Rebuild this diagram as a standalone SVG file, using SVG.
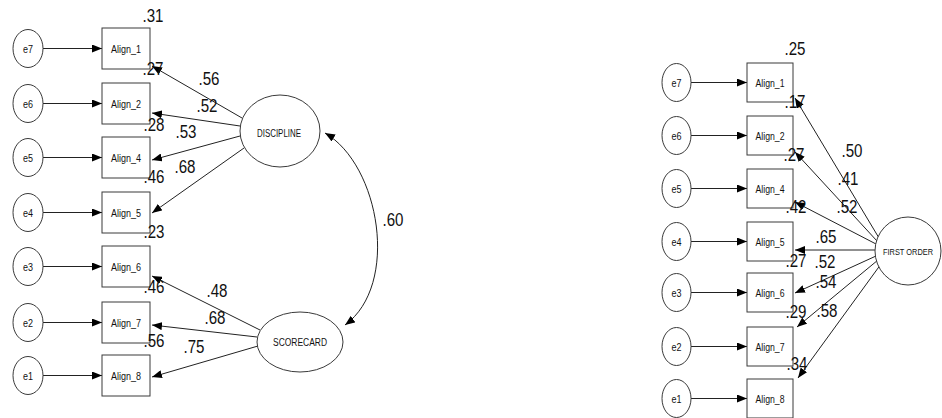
<svg xmlns="http://www.w3.org/2000/svg" width="942" height="418" viewBox="0 0 942 418">
  <style>
    .bg { fill: #ffffff; }
    .obs { fill: #ffffff; stroke: #3a3a3a; stroke-width: 1; }
    .err { fill: #ffffff; stroke: #3a3a3a; stroke-width: 1; }
    .lat { fill: #ffffff; stroke: #3a3a3a; stroke-width: 1; }
    .lbl { font-family: "Liberation Sans", Arial, sans-serif; fill: #111; text-anchor: middle; }
    .small { font-size: 11px; }
    .tiny { font-size: 10px; }
    .coef { font-family: "Liberation Sans", Arial, sans-serif; font-size: 18px; fill: #111; text-anchor: middle; }
    .path { fill: none; stroke: #222; stroke-width: 1; marker-end: url(#ah); }
    .cov { fill: none; stroke: #222; stroke-width: 1; marker-start: url(#ahs); marker-end: url(#ah); }
  </style>
  <defs>
    <marker id="ah" viewBox="0 0 10 8" refX="10" refY="4" markerWidth="10" markerHeight="8" markerUnits="userSpaceOnUse" orient="auto">
      <path d="M0,0 L10,4 L0,8 z" fill="#000"/>
    </marker>
    <marker id="ahs" viewBox="0 0 10 8" refX="10" refY="4" markerWidth="10" markerHeight="8" markerUnits="userSpaceOnUse" orient="auto-start-reverse">
      <path d="M0,0 L10,4 L0,8 z" fill="#000"/>
    </marker>
  </defs>
  <rect class="bg" x="0" y="0" width="942" height="418"/>

  <!-- connectors -->
  <g id="connectors">
    <!-- model A: error terms -->
    <line class="path" x1="43" y1="48.5" x2="102" y2="48.5"/>
    <line class="path" x1="43" y1="103.5" x2="102" y2="103.5"/>
    <line class="path" x1="43" y1="157.5" x2="102" y2="157.5"/>
    <line class="path" x1="43" y1="212.5" x2="102" y2="212.5"/>
    <line class="path" x1="43" y1="266.5" x2="102" y2="266.5"/>
    <line class="path" x1="43" y1="322.5" x2="102" y2="322.5"/>
    <line class="path" x1="43" y1="375.5" x2="102" y2="375.5"/>
    <!-- model A: loadings -->
    <line class="path" x1="242" y1="118" x2="152" y2="66"/>
    <line class="path" x1="240" y1="126" x2="152" y2="113"/>
    <line class="path" x1="240" y1="136" x2="152" y2="160"/>
    <line class="path" x1="244" y1="148" x2="152" y2="213"/>
    <line class="path" x1="260" y1="330" x2="152" y2="276"/>
    <line class="path" x1="257" y1="337" x2="152" y2="325"/>
    <line class="path" x1="258" y1="346" x2="152" y2="377"/>
    <!-- model A: factor covariance -->
    <path class="cov" d="M325,133 C380,165 400,285 345,325"/>

    <!-- model B: error terms -->
    <line class="path" x1="691" y1="82.5" x2="747" y2="82.5"/>
    <line class="path" x1="691" y1="135.5" x2="747" y2="135.5"/>
    <line class="path" x1="691" y1="188.5" x2="747" y2="188.5"/>
    <line class="path" x1="691" y1="241.5" x2="747" y2="241.5"/>
    <line class="path" x1="691" y1="292.5" x2="747" y2="292.5"/>
    <line class="path" x1="691" y1="346.5" x2="747" y2="346.5"/>
    <line class="path" x1="691" y1="398.5" x2="747" y2="398.5"/>
    <!-- model B: loadings -->
    <line class="path" x1="879" y1="238" x2="795" y2="98"/>
    <line class="path" x1="877" y1="241" x2="795" y2="152"/>
    <line class="path" x1="876" y1="244" x2="795" y2="202"/>
    <line class="path" x1="875" y1="250" x2="795" y2="250"/>
    <line class="path" x1="876" y1="256" x2="795" y2="293"/>
    <line class="path" x1="878" y1="260" x2="797" y2="327"/>
    <line class="path" x1="881" y1="264" x2="798" y2="378"/>
  </g>

  <!-- model A: error terms -->
  <g id="a_e7"><ellipse class="err" cx="28" cy="48.5" rx="15" ry="19"/><text class="lbl small" x="28" y="52.5" textLength="10" lengthAdjust="spacingAndGlyphs">e7</text></g>
  <g id="a_e6"><ellipse class="err" cx="28" cy="103.5" rx="15" ry="19"/><text class="lbl small" x="28" y="107.5" textLength="10" lengthAdjust="spacingAndGlyphs">e6</text></g>
  <g id="a_e5"><ellipse class="err" cx="28" cy="157.5" rx="15" ry="19"/><text class="lbl small" x="28" y="161.5" textLength="10" lengthAdjust="spacingAndGlyphs">e5</text></g>
  <g id="a_e4"><ellipse class="err" cx="28" cy="212.5" rx="15" ry="19"/><text class="lbl small" x="28" y="216.5" textLength="10" lengthAdjust="spacingAndGlyphs">e4</text></g>
  <g id="a_e3"><ellipse class="err" cx="28" cy="266.5" rx="15" ry="19"/><text class="lbl small" x="28" y="270.5" textLength="10" lengthAdjust="spacingAndGlyphs">e3</text></g>
  <g id="a_e2"><ellipse class="err" cx="28" cy="322.5" rx="15" ry="19"/><text class="lbl small" x="28" y="326.5" textLength="10" lengthAdjust="spacingAndGlyphs">e2</text></g>
  <g id="a_e1"><ellipse class="err" cx="28" cy="375.5" rx="15" ry="19"/><text class="lbl small" x="28" y="379.5" textLength="10" lengthAdjust="spacingAndGlyphs">e1</text></g>

  <!-- model A: indicators -->
  <g id="a_align1"><rect class="obs" x="102" y="28" width="48" height="41"/><text class="lbl small" x="126" y="52.5" textLength="30" lengthAdjust="spacingAndGlyphs">Align_1</text></g>
  <g id="a_align2"><rect class="obs" x="102" y="83" width="48" height="41"/><text class="lbl small" x="126" y="107.5" textLength="30" lengthAdjust="spacingAndGlyphs">Align_2</text></g>
  <g id="a_align4"><rect class="obs" x="102" y="137" width="48" height="41"/><text class="lbl small" x="126" y="161.5" textLength="30" lengthAdjust="spacingAndGlyphs">Align_4</text></g>
  <g id="a_align5"><rect class="obs" x="102" y="192" width="48" height="41"/><text class="lbl small" x="126" y="216.5" textLength="30" lengthAdjust="spacingAndGlyphs">Align_5</text></g>
  <g id="a_align6"><rect class="obs" x="102" y="246" width="48" height="41"/><text class="lbl small" x="126" y="270.5" textLength="30" lengthAdjust="spacingAndGlyphs">Align_6</text></g>
  <g id="a_align7"><rect class="obs" x="102" y="302" width="48" height="41"/><text class="lbl small" x="126" y="326.5" textLength="30" lengthAdjust="spacingAndGlyphs">Align_7</text></g>
  <g id="a_align8"><rect class="obs" x="102" y="355" width="48" height="41"/><text class="lbl small" x="126" y="379.5" textLength="30" lengthAdjust="spacingAndGlyphs">Align_8</text></g>

  <!-- model A: factors -->
  <g id="discipline"><ellipse class="lat" cx="280" cy="131" rx="40" ry="36"/><text class="lbl tiny" x="279" y="137" textLength="44" lengthAdjust="spacingAndGlyphs">DISCIPLINE</text></g>
  <g id="scorecard"><ellipse class="lat" cx="300" cy="342" rx="43" ry="30"/><text class="lbl tiny" x="300" y="346" textLength="54" lengthAdjust="spacingAndGlyphs">SCORECARD</text></g>

  <!-- model A: estimates -->
  <g id="a_estimates">
    <text class="coef" x="153" y="22" textLength="21" lengthAdjust="spacingAndGlyphs">.31</text>
    <text class="coef" x="153" y="75" textLength="21" lengthAdjust="spacingAndGlyphs">.27</text>
    <text class="coef" x="209" y="85" textLength="21" lengthAdjust="spacingAndGlyphs">.56</text>
    <text class="coef" x="207" y="112" textLength="21" lengthAdjust="spacingAndGlyphs">.52</text>
    <text class="coef" x="154" y="131" textLength="21" lengthAdjust="spacingAndGlyphs">.28</text>
    <text class="coef" x="186" y="138" textLength="21" lengthAdjust="spacingAndGlyphs">.53</text>
    <text class="coef" x="154" y="183" textLength="21" lengthAdjust="spacingAndGlyphs">.46</text>
    <text class="coef" x="185" y="173" textLength="21" lengthAdjust="spacingAndGlyphs">.68</text>
    <text class="coef" x="154" y="238" textLength="21" lengthAdjust="spacingAndGlyphs">.23</text>
    <text class="coef" x="154" y="293" textLength="21" lengthAdjust="spacingAndGlyphs">.46</text>
    <text class="coef" x="217" y="297" textLength="21" lengthAdjust="spacingAndGlyphs">.48</text>
    <text class="coef" x="215" y="324" textLength="21" lengthAdjust="spacingAndGlyphs">.68</text>
    <text class="coef" x="154" y="347" textLength="21" lengthAdjust="spacingAndGlyphs">.56</text>
    <text class="coef" x="194" y="353" textLength="21" lengthAdjust="spacingAndGlyphs">.75</text>
    <text class="coef" x="393" y="226" textLength="21" lengthAdjust="spacingAndGlyphs">.60</text>
  </g>

  <!-- model B: error terms -->
  <g id="b_e7"><ellipse class="err" cx="676.5" cy="82.5" rx="14.5" ry="19"/><text class="lbl small" x="676.5" y="86.5" textLength="10" lengthAdjust="spacingAndGlyphs">e7</text></g>
  <g id="b_e6"><ellipse class="err" cx="676.5" cy="135.5" rx="14.5" ry="19"/><text class="lbl small" x="676.5" y="139.5" textLength="10" lengthAdjust="spacingAndGlyphs">e6</text></g>
  <g id="b_e5"><ellipse class="err" cx="676.5" cy="188.5" rx="14.5" ry="19"/><text class="lbl small" x="676.5" y="192.5" textLength="10" lengthAdjust="spacingAndGlyphs">e5</text></g>
  <g id="b_e4"><ellipse class="err" cx="676.5" cy="241.5" rx="14.5" ry="19"/><text class="lbl small" x="676.5" y="245.5" textLength="10" lengthAdjust="spacingAndGlyphs">e4</text></g>
  <g id="b_e3"><ellipse class="err" cx="676.5" cy="292.5" rx="14.5" ry="19"/><text class="lbl small" x="676.5" y="296.5" textLength="10" lengthAdjust="spacingAndGlyphs">e3</text></g>
  <g id="b_e2"><ellipse class="err" cx="676.5" cy="346.5" rx="14.5" ry="19"/><text class="lbl small" x="676.5" y="350.5" textLength="10" lengthAdjust="spacingAndGlyphs">e2</text></g>
  <g id="b_e1"><ellipse class="err" cx="676.5" cy="398.5" rx="14.5" ry="19"/><text class="lbl small" x="676.5" y="402.5" textLength="10" lengthAdjust="spacingAndGlyphs">e1</text></g>

  <!-- model B: indicators -->
  <g id="b_align1"><rect class="obs" x="747" y="63" width="46" height="39"/><text class="lbl small" x="770" y="86.5" textLength="29" lengthAdjust="spacingAndGlyphs">Align_1</text></g>
  <g id="b_align2"><rect class="obs" x="747" y="116" width="46" height="39"/><text class="lbl small" x="770" y="139.5" textLength="29" lengthAdjust="spacingAndGlyphs">Align_2</text></g>
  <g id="b_align4"><rect class="obs" x="747" y="169" width="46" height="39"/><text class="lbl small" x="770" y="192.5" textLength="29" lengthAdjust="spacingAndGlyphs">Align_4</text></g>
  <g id="b_align5"><rect class="obs" x="747" y="222" width="46" height="39"/><text class="lbl small" x="770" y="245.5" textLength="29" lengthAdjust="spacingAndGlyphs">Align_5</text></g>
  <g id="b_align6"><rect class="obs" x="747" y="273" width="46" height="39"/><text class="lbl small" x="770" y="296.5" textLength="29" lengthAdjust="spacingAndGlyphs">Align_6</text></g>
  <g id="b_align7"><rect class="obs" x="747" y="327" width="46" height="39"/><text class="lbl small" x="770" y="350.5" textLength="29" lengthAdjust="spacingAndGlyphs">Align_7</text></g>
  <g id="b_align8"><rect class="obs" x="747" y="379" width="46" height="39"/><text class="lbl small" x="770" y="402.5" textLength="29" lengthAdjust="spacingAndGlyphs">Align_8</text></g>

  <!-- model B: factor -->
  <g id="first_order"><ellipse class="lat" cx="908" cy="251" rx="33" ry="34"/><text class="lbl" font-size="9" x="908" y="255" textLength="50" lengthAdjust="spacingAndGlyphs">FIRST ORDER</text></g>

  <!-- model B: estimates -->
  <g id="b_estimates">
    <text class="coef" x="795" y="55" textLength="21" lengthAdjust="spacingAndGlyphs">.25</text>
    <text class="coef" x="795" y="108" textLength="21" lengthAdjust="spacingAndGlyphs">.17</text>
    <text class="coef" x="852" y="157" textLength="21" lengthAdjust="spacingAndGlyphs">.50</text>
    <text class="coef" x="794" y="161" textLength="21" lengthAdjust="spacingAndGlyphs">.27</text>
    <text class="coef" x="848" y="185" textLength="21" lengthAdjust="spacingAndGlyphs">.41</text>
    <text class="coef" x="847" y="213" textLength="21" lengthAdjust="spacingAndGlyphs">.52</text>
    <text class="coef" x="796" y="213" textLength="21" lengthAdjust="spacingAndGlyphs">.42</text>
    <text class="coef" x="826" y="243" textLength="21" lengthAdjust="spacingAndGlyphs">.65</text>
    <text class="coef" x="796" y="267" textLength="21" lengthAdjust="spacingAndGlyphs">.27</text>
    <text class="coef" x="825" y="268" textLength="21" lengthAdjust="spacingAndGlyphs">.52</text>
    <text class="coef" x="826" y="288" textLength="21" lengthAdjust="spacingAndGlyphs">.54</text>
    <text class="coef" x="796" y="318" textLength="21" lengthAdjust="spacingAndGlyphs">.29</text>
    <text class="coef" x="827" y="317" textLength="21" lengthAdjust="spacingAndGlyphs">.58</text>
    <text class="coef" x="797" y="370" textLength="21" lengthAdjust="spacingAndGlyphs">.34</text>
  </g>
</svg>
